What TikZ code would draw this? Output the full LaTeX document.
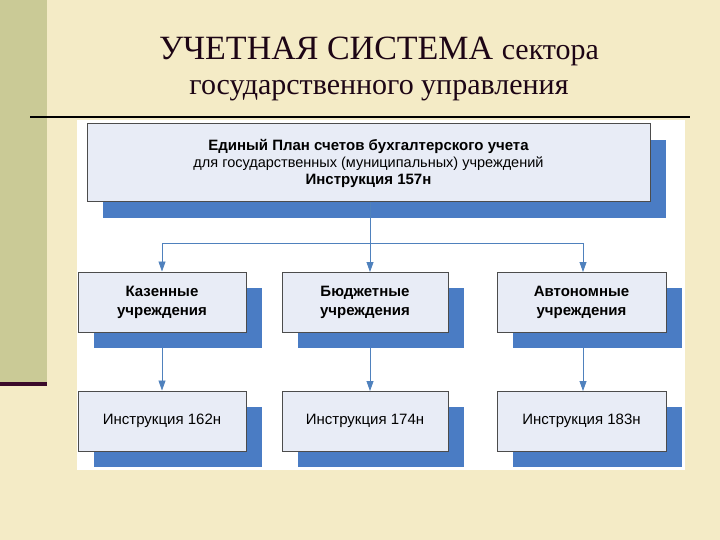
\documentclass[tikz,border=0pt]{standalone}
\usepackage{fontspec}
\setmainfont{Liberation Serif}
\newfontfamily\sans{Liberation Sans}
\usetikzlibrary{arrows.meta}
\definecolor{bg}{HTML}{F4EBC6}
\definecolor{olive}{HTML}{CACA96}
\definecolor{plum}{HTML}{3A0A2A}
\definecolor{boxfill}{HTML}{E8ECF6}
\definecolor{shad}{HTML}{4A7CC4}
\definecolor{conn}{HTML}{4F81BD}
\tikzset{
 box/.style={draw=black!70,line width=1pt,fill=boxfill,font=\sans\fontsize{15}{17}\selectfont,align=center,inner sep=0pt},
 sh/.style={fill=shad,draw=none},
 con/.style={draw=conn,line width=0.8pt},
 arr/.style={con,-{Triangle[width=7pt,length=10pt]}}
}
\begin{document}
\begin{tikzpicture}[x=1pt,y=-1pt]
\useasboundingbox (0,0) rectangle (720,540);
\fill[bg] (0,0) rectangle (720,540);
\fill[olive] (0,0) rectangle (47,382);
\fill[plum] (0,382) rectangle (47,386);
\draw[black,line width=1.5pt] (30,117) -- (690,117);
\fill[white] (77,120) rectangle (685,470);
\node[font=\fontsize{34}{38}\selectfont,text=plum!50!black] (t1) at (379,51) {УЧЕТНАЯ СИСТЕМА \fontsize{30}{34}\selectfont сектора};
\node[font=\fontsize{30}{34}\selectfont,text=plum!50!black] (t2) at (379,91) {государственного управления};
% shadows
\fill[sh] (103,140) rectangle (666,218);
\foreach \x/\w in {78/168,282/166,497/169}{
 \fill[sh] (\x+16,288) rectangle (\x+\w+16,348);
 \fill[sh] (\x+16,407) rectangle (\x+\w+16,467);
}
\node[box,minimum width=563pt,minimum height=78pt] (top) at (368.5,163) {\textbf{Единый План счетов бухгалтерского учета}\\[0pt]{\fontsize{14.5}{16}\selectfont для государственных (муниципальных) учреждений}\\[0pt]\textbf{Инструкция 157н}};
\node[box,minimum width=168pt,minimum height=60pt,font=\sans\bfseries\fontsize{15}{19}\selectfont] (a) at (162,302) {Казенные\\учреждения};
\node[box,minimum width=166pt,minimum height=60pt,font=\sans\bfseries\fontsize{15}{19}\selectfont] (b) at (365,302) {Бюджетные\\учреждения};
\node[box,minimum width=169pt,minimum height=60pt,font=\sans\bfseries\fontsize{15}{19}\selectfont] (c) at (581.5,302) {Автономные\\учреждения};
\node[box,minimum width=168pt,minimum height=60pt] (a2) at (162,421) {Инструкция 162н};
\node[box,minimum width=166pt,minimum height=60pt] (b2) at (365,421) {Инструкция 174н};
\node[box,minimum width=169pt,minimum height=60pt] (c2) at (581.5,421) {Инструкция 183н};
\coordinate (j) at (370,243);
\draw[con] (370,202) -- (j);
\draw[con] (162,243) -- (583,243);
\draw[arr] (162,243) -- (a.north);
\draw[arr] (j) -- (370,272);
\draw[arr] (583,243) -- (583,272);
\draw[arr] (162,348) -- (a2.north);
\draw[arr] (370,348) -- (370,391);
\draw[arr] (583,348) -- (583,391);
\end{tikzpicture}
\end{document}
